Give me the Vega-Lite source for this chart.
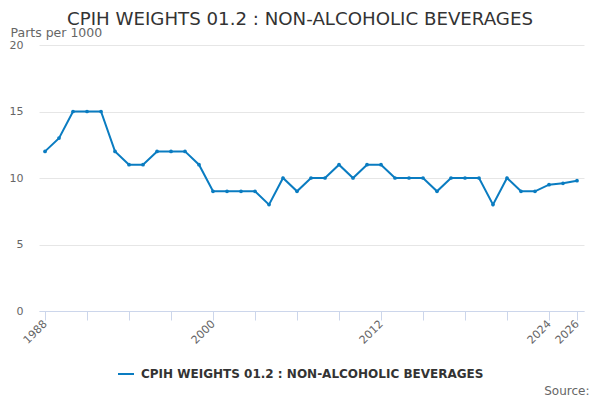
{
  "$schema": "https://vega.github.io/schema/vega-lite/v6.json",
  "width": 545,
  "height": 266,
  "autosize": "none",
  "padding": {"left": 39, "top": 45, "right": 16, "bottom": 89},
  "background": "white",
  "config": {
    "font": "DejaVu Sans",
    "view": {"stroke": null}
  },
  "title": {
    "text": "CPIH WEIGHTS 01.2 : NON-ALCOHOLIC BEVERAGES",
    "anchor": "middle",
    "frame": "group",
    "dx": -11.5,
    "offset": 4,
    "dy": 21,
    "baseline": "alphabetic",
    "font": "DejaVu Sans",
    "fontSize": 18.2,
    "fontWeight": "normal",
    "color": "#333333"
  },
  "data": {
    "values": [
      {"year": 1988, "value": 12, "series": "CPIH WEIGHTS 01.2 : NON-ALCOHOLIC BEVERAGES"},
      {"year": 1989, "value": 13, "series": "CPIH WEIGHTS 01.2 : NON-ALCOHOLIC BEVERAGES"},
      {"year": 1990, "value": 15, "series": "CPIH WEIGHTS 01.2 : NON-ALCOHOLIC BEVERAGES"},
      {"year": 1991, "value": 15, "series": "CPIH WEIGHTS 01.2 : NON-ALCOHOLIC BEVERAGES"},
      {"year": 1992, "value": 15, "series": "CPIH WEIGHTS 01.2 : NON-ALCOHOLIC BEVERAGES"},
      {"year": 1993, "value": 12, "series": "CPIH WEIGHTS 01.2 : NON-ALCOHOLIC BEVERAGES"},
      {"year": 1994, "value": 11, "series": "CPIH WEIGHTS 01.2 : NON-ALCOHOLIC BEVERAGES"},
      {"year": 1995, "value": 11, "series": "CPIH WEIGHTS 01.2 : NON-ALCOHOLIC BEVERAGES"},
      {"year": 1996, "value": 12, "series": "CPIH WEIGHTS 01.2 : NON-ALCOHOLIC BEVERAGES"},
      {"year": 1997, "value": 12, "series": "CPIH WEIGHTS 01.2 : NON-ALCOHOLIC BEVERAGES"},
      {"year": 1998, "value": 12, "series": "CPIH WEIGHTS 01.2 : NON-ALCOHOLIC BEVERAGES"},
      {"year": 1999, "value": 11, "series": "CPIH WEIGHTS 01.2 : NON-ALCOHOLIC BEVERAGES"},
      {"year": 2000, "value": 9, "series": "CPIH WEIGHTS 01.2 : NON-ALCOHOLIC BEVERAGES"},
      {"year": 2001, "value": 9, "series": "CPIH WEIGHTS 01.2 : NON-ALCOHOLIC BEVERAGES"},
      {"year": 2002, "value": 9, "series": "CPIH WEIGHTS 01.2 : NON-ALCOHOLIC BEVERAGES"},
      {"year": 2003, "value": 9, "series": "CPIH WEIGHTS 01.2 : NON-ALCOHOLIC BEVERAGES"},
      {"year": 2004, "value": 8, "series": "CPIH WEIGHTS 01.2 : NON-ALCOHOLIC BEVERAGES"},
      {"year": 2005, "value": 10, "series": "CPIH WEIGHTS 01.2 : NON-ALCOHOLIC BEVERAGES"},
      {"year": 2006, "value": 9, "series": "CPIH WEIGHTS 01.2 : NON-ALCOHOLIC BEVERAGES"},
      {"year": 2007, "value": 10, "series": "CPIH WEIGHTS 01.2 : NON-ALCOHOLIC BEVERAGES"},
      {"year": 2008, "value": 10, "series": "CPIH WEIGHTS 01.2 : NON-ALCOHOLIC BEVERAGES"},
      {"year": 2009, "value": 11, "series": "CPIH WEIGHTS 01.2 : NON-ALCOHOLIC BEVERAGES"},
      {"year": 2010, "value": 10, "series": "CPIH WEIGHTS 01.2 : NON-ALCOHOLIC BEVERAGES"},
      {"year": 2011, "value": 11, "series": "CPIH WEIGHTS 01.2 : NON-ALCOHOLIC BEVERAGES"},
      {"year": 2012, "value": 11, "series": "CPIH WEIGHTS 01.2 : NON-ALCOHOLIC BEVERAGES"},
      {"year": 2013, "value": 10, "series": "CPIH WEIGHTS 01.2 : NON-ALCOHOLIC BEVERAGES"},
      {"year": 2014, "value": 10, "series": "CPIH WEIGHTS 01.2 : NON-ALCOHOLIC BEVERAGES"},
      {"year": 2015, "value": 10, "series": "CPIH WEIGHTS 01.2 : NON-ALCOHOLIC BEVERAGES"},
      {"year": 2016, "value": 9, "series": "CPIH WEIGHTS 01.2 : NON-ALCOHOLIC BEVERAGES"},
      {"year": 2017, "value": 10, "series": "CPIH WEIGHTS 01.2 : NON-ALCOHOLIC BEVERAGES"},
      {"year": 2018, "value": 10, "series": "CPIH WEIGHTS 01.2 : NON-ALCOHOLIC BEVERAGES"},
      {"year": 2019, "value": 10, "series": "CPIH WEIGHTS 01.2 : NON-ALCOHOLIC BEVERAGES"},
      {"year": 2020, "value": 8, "series": "CPIH WEIGHTS 01.2 : NON-ALCOHOLIC BEVERAGES"},
      {"year": 2021, "value": 10, "series": "CPIH WEIGHTS 01.2 : NON-ALCOHOLIC BEVERAGES"},
      {"year": 2022, "value": 9, "series": "CPIH WEIGHTS 01.2 : NON-ALCOHOLIC BEVERAGES"},
      {"year": 2023, "value": 9, "series": "CPIH WEIGHTS 01.2 : NON-ALCOHOLIC BEVERAGES"},
      {"year": 2024, "value": 9.5, "series": "CPIH WEIGHTS 01.2 : NON-ALCOHOLIC BEVERAGES"},
      {"year": 2025, "value": 9.6, "series": "CPIH WEIGHTS 01.2 : NON-ALCOHOLIC BEVERAGES"},
      {"year": 2026, "value": 9.8, "series": "CPIH WEIGHTS 01.2 : NON-ALCOHOLIC BEVERAGES"}
    ]
  },
  "mark": {"type": "line", "strokeWidth": 2, "point": {"size": 14, "filled": true}},
  "encoding": {
    "x": {
      "field": "year",
      "type": "quantitative",
      "scale": {"domain": [1987.57, 2026.5], "nice": false, "zero": false},
      "axis": {
        "values": [1988, 1991, 1994, 1997, 2000, 2003, 2006, 2009, 2012, 2015, 2018, 2021, 2024, 2026],
        "labelExpr": "indexof([1988, 2000, 2012, 2024, 2026], datum.value) >= 0 ? datum.value + '' : ''",
        "grid": false,
        "domainColor": "#ccd6eb",
        "tickColor": "#ccd6eb",
        "tickSize": 9,
        "labelAngle": -45,
        "labelAlign": "right",
        "labelBaseline": "middle",
        "labelPadding": 2,
        "labelFontSize": 11,
        "labelColor": "#666666",
        "labelOverlap": false,
        "labelFlush": false,
        "title": "Source:",
        "titleFontSize": 12,
        "titleFontWeight": "normal",
        "titleColor": "#666666",
        "titleAnchor": null,
        "titleAlign": "right",
        "titleBaseline": "alphabetic",
        "titleX": 550,
        "titleY": 83
      }
    },
    "y": {
      "field": "value",
      "type": "quantitative",
      "scale": {"domain": [0, 20], "nice": false},
      "axis": {
        "values": [0, 5, 10, 15, 20],
        "domain": false,
        "ticks": false,
        "gridColor": "#e6e6e6",
        "labelPadding": 16,
        "labelFontSize": 11,
        "labelColor": "#666666",
        "title": "Parts per 1000",
        "titleAngle": 0,
        "titleAlign": "left",
        "titleBaseline": "alphabetic",
        "titleAnchor": null,
        "titleX": -29,
        "titleY": -9,
        "titleFontSize": 12.5,
        "titleFontWeight": "normal",
        "titleColor": "#666666"
      }
    },
    "color": {
      "field": "series",
      "type": "nominal",
      "scale": {"range": ["#0a7cc1"]},
      "legend": {
        "title": null,
        "orient": "none",
        "legendX": 78,
        "legendY": 320,
        "symbolType": "stroke",
        "symbolSize": 256,
        "symbolStrokeWidth": 2,
        "labelFontSize": 12,
        "labelFontWeight": "bold",
        "labelColor": "#333333",
        "labelLimit": 500,
        "labelOffset": 6
      }
    }
  }
}
